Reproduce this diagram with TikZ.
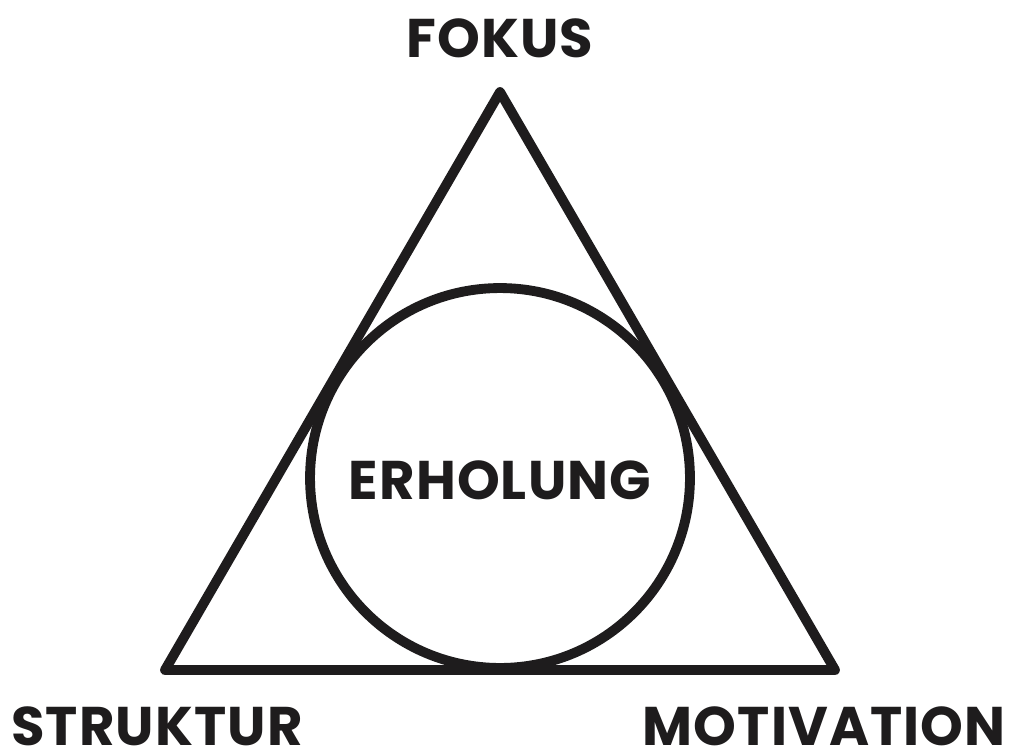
\documentclass[tikz,border=0pt]{standalone}
\usepackage{fontspec}
\setmainfont{Poppins}
\usetikzlibrary{positioning}
\definecolor{ink}{RGB}{30,28,29}
\tikzset{
  font=\bfseries,
  label/.style={text=ink, font=\fontsize{31}{36}\selectfont\bfseries\addfontfeature{LetterSpace=2}, inner sep=0pt},
  edge/.style={draw=ink, line width=5.6pt, line join=round, line cap=round},
  ring/.style={circle, draw=ink, line width=5.6pt, minimum size=7.6cm, inner sep=0pt}
}
\begin{document}
\begin{tikzpicture}[x=0.02cm,y=-0.02cm]

% Canvas
\fill[white] (0,0) rectangle (1014,754);
\useasboundingbox (0,0) rectangle (1014,754);

% Corners
\coordinate (top) at (500,92);
\coordinate (left) at (165,670);
\coordinate (right) at (835,670);

% Triangle and circle
\draw[edge] (top) -- (right) -- (left) -- cycle;
\node[ring] (erholung) at (500,478) {};
\node[label] (erholungText) at (500,480) {ERHOLUNG};

% Labels
\node[label] (fokus) at (500,38) {FOKUS};
\node[label] (struktur) at (157,726) {STRUKTUR};
\node[label, anchor=east] (motivation) at (1006,726) {MOTIVATION};

\end{tikzpicture}
\end{document}
